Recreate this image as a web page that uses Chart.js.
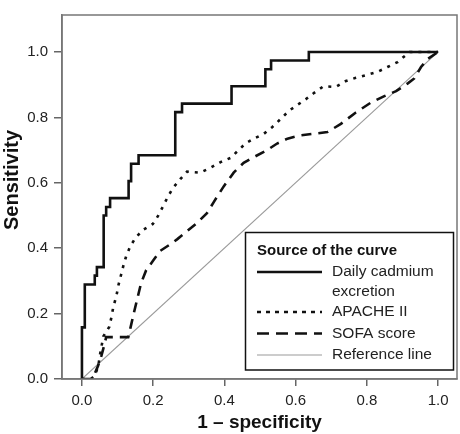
<!DOCTYPE html>
<html>
<head>
<meta charset="utf-8">
<script src="https://cdn.jsdelivr.net/npm/chart.js@4.4.1/dist/chart.umd.min.js"></script>
<style>
html,body{margin:0;padding:0;background:#fff;}
canvas{display:block;}
</style>
</head>
<body>
<canvas id="c" width="460" height="434"></canvas>
<script>
// ---- data ----
const xTickValues = [0.0, 0.2, 0.4, 0.6, 0.8, 1.0];
const yTickValues = [0.0, 0.2, 0.4, 0.6, 0.8, 1.0];
const xTitle = '1 \u2013 specificity';
const yTitle = 'Sensitivity';
const legendTitle = 'Source of the curve';
const seriesNames = ['Daily cadmium excretion', 'APACHE II', 'SOFA score', 'Reference line'];
const legendLines = [['Daily cadmium', 'excretion'], ['APACHE II'], ['SOFA score'], ['Reference line']];

// Daily cadmium excretion (step ROC curve)
const cadmiumFpr = [0, 0, 0.008, 0.008, 0.036, 0.036, 0.042, 0.042, 0.061, 0.061, 0.068, 0.068, 0.079, 0.079, 0.131, 0.131, 0.138, 0.138, 0.159, 0.159, 0.262, 0.262, 0.281, 0.281, 0.420, 0.420, 0.515, 0.515, 0.531, 0.531, 0.637, 0.637, 1.0];
const cadmiumSens = [0, 0.158, 0.158, 0.289, 0.289, 0.316, 0.316, 0.342, 0.342, 0.500, 0.500, 0.526, 0.526, 0.553, 0.553, 0.605, 0.605, 0.658, 0.658, 0.684, 0.684, 0.816, 0.816, 0.842, 0.842, 0.895, 0.895, 0.947, 0.947, 0.974, 0.974, 1.0, 1.0];

// APACHE II
const apacheFpr = [0, 0.025, 0.036, 0.046, 0.050, 0.055, 0.060, 0.077, 0.083, 0.088, 0.097, 0.102, 0.109, 0.116, 0.124, 0.136, 0.152, 0.173, 0.199, 0.215, 0.229, 0.243, 0.257, 0.276, 0.295, 0.332, 0.361, 0.389, 0.417, 0.440, 0.459, 0.483, 0.511, 0.534, 0.558, 0.581, 0.605, 0.628, 0.652, 0.678, 0.713, 0.741, 0.769, 0.797, 0.830, 0.858, 0.886, 0.910, 0.920, 1.0];
const apacheSens = [0, 0, 0.010, 0.040, 0.070, 0.100, 0.130, 0.160, 0.190, 0.220, 0.255, 0.285, 0.315, 0.345, 0.375, 0.407, 0.434, 0.457, 0.474, 0.501, 0.531, 0.561, 0.586, 0.611, 0.634, 0.631, 0.646, 0.663, 0.676, 0.700, 0.720, 0.735, 0.750, 0.770, 0.795, 0.820, 0.838, 0.855, 0.875, 0.895, 0.893, 0.911, 0.921, 0.929, 0.939, 0.954, 0.969, 0.991, 1.0, 1.0];

// SOFA score
const sofaFpr = [0, 0.028, 0.035, 0.045, 0.055, 0.063, 0.068, 0.130, 0.137, 0.146, 0.156, 0.166, 0.180, 0.200, 0.220, 0.248, 0.267, 0.295, 0.323, 0.351, 0.370, 0.398, 0.426, 0.454, 0.487, 0.520, 0.548, 0.577, 0.614, 0.652, 0.689, 0.727, 0.769, 0.811, 0.849, 0.882, 0.915, 0.933, 0.952, 0.971, 1.0];
const sofaSens = [0, 0, 0.014, 0.040, 0.072, 0.105, 0.128, 0.128, 0.160, 0.203, 0.248, 0.293, 0.332, 0.362, 0.392, 0.412, 0.427, 0.452, 0.477, 0.507, 0.541, 0.589, 0.631, 0.661, 0.681, 0.700, 0.720, 0.735, 0.745, 0.750, 0.755, 0.780, 0.815, 0.845, 0.865, 0.880, 0.904, 0.919, 0.954, 0.979, 1.0];

// Reference line
const refFpr = [0, 1];
const refSens = [0, 1];

const xRange = [-0.056, 1.053];
const yRange = [0, 1.113];

// ---- chart ----
const FONT = '"Liberation Sans", Arial, Helvetica, sans-serif';
const toPts = (xs, ys) => xs.map((x, i) => ({x: x, y: ys[i]}));

const styles = [
  {color: '#111', width: 2.6, dash: [], legendDash: []},
  {color: '#111', width: 2.6, dash: [3, 6], legendDash: [4, 5]},
  {color: '#111', width: 2.6, dash: [10, 7], legendDash: [12, 7]},
  {color: '#9a9a9a', width: 1.1, dash: [], legendDash: []}
];

const frameAndLegend = {
  id: 'frameAndLegend',
  afterDraw(chart) {
    const ctx = chart.ctx;
    const a = chart.chartArea;
    ctx.save();
    // frame
    ctx.strokeStyle = '#777';
    ctx.lineWidth = 1.5;
    ctx.strokeRect(a.left, a.top, a.right - a.left, a.bottom - a.top);

    // y-axis title
    ctx.fillStyle = '#111';
    ctx.font = 'bold 20px ' + FONT;
    ctx.textAlign = 'center';
    ctx.textBaseline = 'middle';
    ctx.translate(12, 180);
    ctx.rotate(-Math.PI / 2);
    ctx.fillText(yTitle, 0, 0);
    ctx.setTransform(1, 0, 0, 1, 0, 0);

    // legend box
    const bx = 245.5, by = 232.5, bw = 208, bh = 137.5;
    ctx.fillStyle = '#fff';
    ctx.fillRect(bx, by, bw, bh);
    ctx.strokeStyle = '#111';
    ctx.lineWidth = 1.5;
    ctx.strokeRect(bx, by, bw, bh);

    ctx.fillStyle = '#111';
    ctx.textAlign = 'left';
    ctx.textBaseline = 'middle';
    ctx.font = 'bold 15px ' + FONT;
    ctx.fillText(legendTitle, 257, 251);

    const rowY = [272, 312, 333.5, 355];
    ctx.font = '15.5px ' + FONT;
    legendLines.forEach((lines, i) => {
      const s = styles[i];
      ctx.save();
      ctx.strokeStyle = s.color;
      ctx.lineWidth = s.width;
      ctx.setLineDash(s.legendDash);
      ctx.beginPath();
      ctx.moveTo(257, rowY[i]);
      ctx.lineTo(322, rowY[i]);
      ctx.stroke();
      ctx.restore();
      ctx.fillStyle = '#222';
      lines.forEach((t, j) => ctx.fillText(t, 332, rowY[i] + j * 20));
    });
    ctx.restore();
  }
};

const datasets = [
  toPts(cadmiumFpr, cadmiumSens),
  toPts(apacheFpr, apacheSens),
  toPts(sofaFpr, sofaSens),
  toPts(refFpr, refSens)
].map((pts, i) => ({
  label: seriesNames[i],
  data: pts,
  borderColor: styles[i].color,
  borderWidth: styles[i].width,
  borderDash: styles[i].dash,
  borderCapStyle: 'butt',
  borderJoinStyle: 'miter',
  pointRadius: 0,
  fill: false,
  tension: 0
}));

new Chart(document.getElementById('c'), {
  type: 'line',
  data: {datasets: datasets},
  options: {
    responsive: false,
    animation: false,
    devicePixelRatio: 1,
    layout: {padding: {top: 6, right: 3, left: 0, bottom: 0}},
    plugins: {legend: {display: false}, tooltip: {enabled: false}},
    scales: {
      x: {
        type: 'linear',
        min: xRange[0], max: xRange[1],
        afterBuildTicks: s => { s.ticks = xTickValues.map(v => ({value: v})); },
        afterFit: s => { s.height = 55; },
        grid: {drawOnChartArea: false, drawTicks: true, tickLength: 7, color: '#666', lineWidth: 1.5},
        border: {display: true, color: '#777', width: 1.5},
        ticks: {
          padding: 6, color: '#222', font: {family: FONT, size: 15},
          callback: v => Number(v).toFixed(1), maxRotation: 0, autoSkip: false
        },
        title: {display: true, text: xTitle, color: '#111', font: {family: FONT, size: 19, weight: 'bold'}, padding: {top: 0, bottom: 0}}
      },
      y: {
        type: 'linear',
        min: yRange[0], max: yRange[1],
        afterBuildTicks: s => { s.ticks = yTickValues.map(v => ({value: v})); },
        afterFit: s => { s.width = 62; },
        grid: {drawOnChartArea: false, drawTicks: true, tickLength: 8, color: '#666', lineWidth: 1.5},
        border: {display: true, color: '#777', width: 1.5},
        ticks: {
          padding: 6, color: '#222', font: {family: FONT, size: 15},
          callback: v => Number(v).toFixed(1), autoSkip: false
        },
        title: {display: false}
      }
    }
  },
  plugins: [frameAndLegend]
});
</script>
</body>
</html>
